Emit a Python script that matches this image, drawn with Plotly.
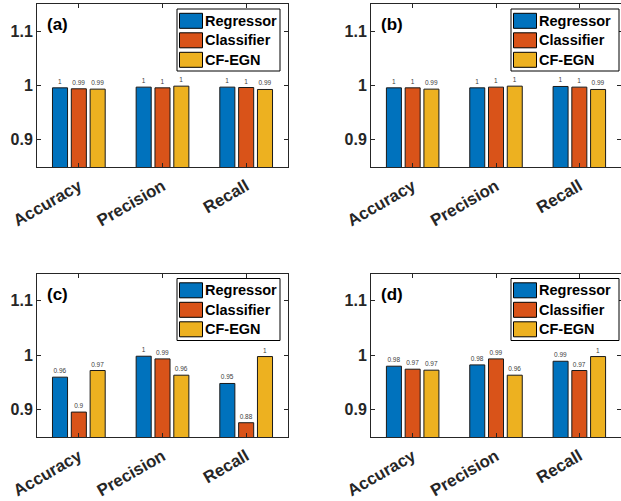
import plotly.graph_objects as go

W, H = 621, 501

categories = ["Accuracy", "Precision", "Recall"]
series_names = ["Regressor", "Classifier", "CF-EGN"]
series_colors = ["#0072BD", "#D95319", "#EDB120"]
panel_labels = ["(a)", "(b)", "(c)", "(d)"]

a_regressor = [0.9957, 0.9970, 0.9970]
a_classifier = [0.9939, 0.9957, 0.9963]
a_cfegn = [0.9933, 0.9988, 0.9927]

b_regressor = [0.9957, 0.9957, 0.9982]
b_classifier = [0.9957, 0.9970, 0.9970]
b_cfegn = [0.9933, 0.9988, 0.9927]

c_regressor = [0.9598, 0.9982, 0.9482]
c_classifier = [0.8957, 0.9933, 0.8762]
c_cfegn = [0.9720, 0.9634, 0.9976]

d_regressor = [0.9799, 0.9823, 0.9890]
d_classifier = [0.9744, 0.9933, 0.9720]
d_cfegn = [0.9726, 0.9634, 0.9976]

y_tickvals = [0.9, 1.0, 1.1]
y_ticktext = ["0.9", "1", "1.1"]
y_range = [0.85, 1.15]

panels = [
    [a_regressor, a_classifier, a_cfegn],
    [b_regressor, b_classifier, b_cfegn],
    [c_regressor, c_classifier, c_cfegn],
    [d_regressor, d_classifier, d_cfegn],
]

FONT = "Liberation Sans, Arial, Helvetica, sans-serif"
AX = "#262626"

# pixel boxes of each axes: (left, right, top, bottom)
boxes = [
    (37, 288, 4, 167),
    (371, 621, 4, 167),
    (37, 288, 273.5, 437),
    (371, 621, 273.5, 437),
]
# legend box pixel positions (left, right) per panel
leg_x = [(177, 280), (511, 619), (177, 280), (511, 619)]


def px(x):
    return x / W


def py(y):
    return 1 - y / H


def fmt(v):
    return f"{round(v, 2):g}"


fig = go.Figure()
shapes = []
annotations = []

for i, series in enumerate(panels):
    n = "" if i == 0 else str(i + 1)
    xa, ya = "x" + n, "y" + n
    for name, vals, col in zip(series_names, series, series_colors):
        fig.add_trace(go.Bar(
            x=categories, y=vals, name=name, xaxis=xa, yaxis=ya,
            marker=dict(color=col, line=dict(color="#1a1a1a", width=1)),
            text=[fmt(v) for v in vals], textposition="outside",
            textfont=dict(size=6.5, color="#404040", family=FONT),
            constraintext="none", cliponaxis=False, showlegend=False,
            hoverinfo="skip",
        ))
    l, r, t, b = boxes[i]
    common = dict(showline=True, linecolor=AX, linewidth=1, mirror="ticks",
                  ticks="inside", ticklen=4, tickcolor=AX, showgrid=False,
                  zeroline=False, automargin=False)
    fig.layout["xaxis" + n] = dict(
        domain=[px(l), px(r)], anchor=ya, type="category",
        categoryorder="array", categoryarray=categories,
        range=[-0.5, 2.5], tickangle=-30, ticklabelstandoff=2,
        tickfont=dict(family=FONT, size=16.8, color=AX, weight="bold"),
        **common)
    fig.layout["yaxis" + n] = dict(
        domain=[py(b), py(t)], anchor=xa, range=y_range,
        tickvals=y_tickvals, ticktext=y_ticktext,
        tickfont=dict(family=FONT, size=16, color=AX, weight="bold"),
        **common)

    # panel label
    annotations.append(dict(
        x=px(l + 8), y=py(t + 21), xref="paper", yref="paper",
        text="<b>" + panel_labels[i] + "</b>", showarrow=False,
        xanchor="left", yanchor="middle",
        font=dict(family=FONT, size=17, color="#000")))

    # legend
    lx0, lx1 = leg_x[i]
    shapes.append(dict(type="rect", xref="paper", yref="paper",
                       x0=px(lx0), x1=px(lx1), y0=py(t + 67), y1=py(t + 5),
                       line=dict(color="#000", width=1), fillcolor="white"))
    for k, (name, col) in enumerate(zip(series_names, series_colors)):
        yc = t + 16.8 + k * 19.5
        shapes.append(dict(type="rect", xref="paper", yref="paper",
                           x0=px(lx0 + 2.5), x1=px(lx0 + 25.5),
                           y0=py(yc + 7.5), y1=py(yc - 7.5),
                           line=dict(color="#000", width=1), fillcolor=col))
        annotations.append(dict(
            x=px(lx0 + 25.5), y=py(yc), xref="paper", yref="paper",
            text="<b>" + name + "</b>", showarrow=False,
            xanchor="left", yanchor="middle",
            font=dict(family=FONT, size=14.5, color="#000")))

fig.update_layout(
    width=W, height=H, margin=dict(l=0, r=0, t=0, b=0),
    paper_bgcolor="white", plot_bgcolor="white",
    barmode="group", bargap=0.325, bargroupgap=0.2,
    shapes=shapes, annotations=annotations, showlegend=False,
    font=dict(family=FONT, color=AX), hovermode=False,
)

fig.write_html("out.html", config={"displayModeBar": False, "staticPlot": True})

# remove the default body margin so the figure sits at the window origin
with open("out.html", encoding="utf-8") as f:
    html = f.read()
html = html.replace("<body>", '<body style="margin:0;padding:0;overflow:hidden">', 1)
with open("out.html", "w", encoding="utf-8") as f:
    f.write(html)
